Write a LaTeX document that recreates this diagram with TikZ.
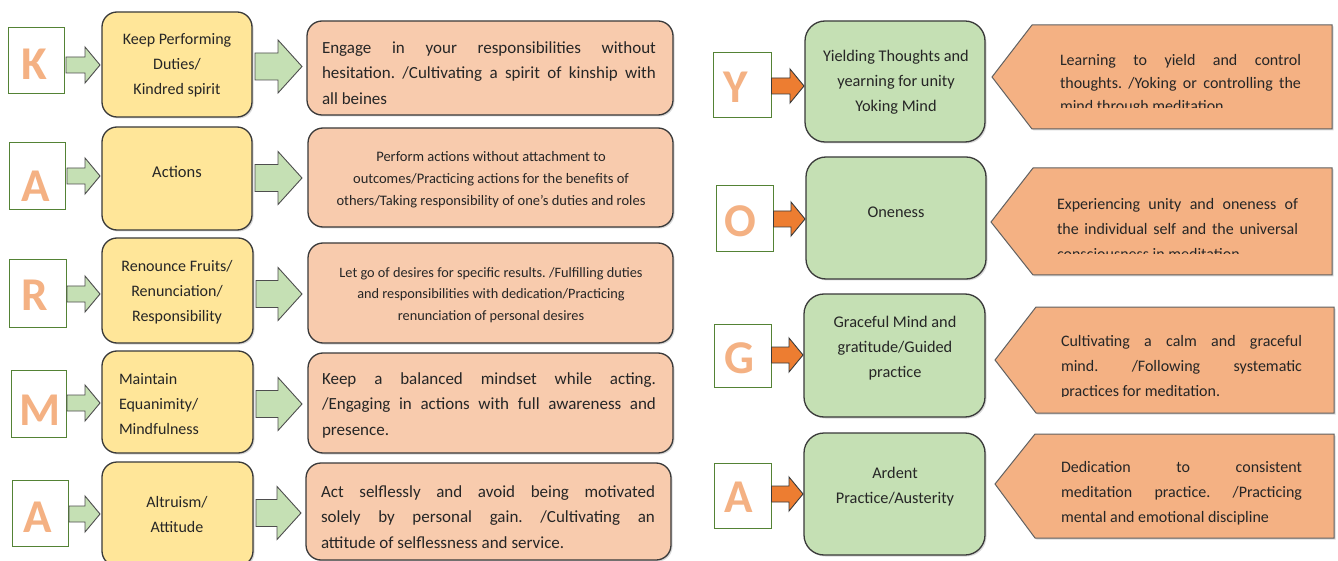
\documentclass[tikz,border=0pt]{standalone}
\usepackage{fontspec}
\setmainfont{Carlito}
\usetikzlibrary{calc,shadows}
\definecolor{yel}{HTML}{FFE699}
\definecolor{pch}{HTML}{F8CBAD}
\definecolor{lgr}{HTML}{C5E0B4}
\definecolor{org}{HTML}{F4B183}
\definecolor{dorg}{HTML}{ED7D31}
\definecolor{dgr}{HTML}{548235}
\definecolor{ltr}{HTML}{F4B183}
\definecolor{txt}{HTML}{262626}
\definecolor{edge}{HTML}{3A3A3A}
\newcommand\mkbox[6]{%
  \pgfmathsetmacro\bw{#5-#3}\pgfmathsetmacro\bh{#6-#4}%
  \node[#2, minimum width=\bw pt, minimum height=\bh pt] (#1) at ({(#3+#5)/2},{(#4+#6)/2}) {};}
% style, from node, to node, y, start gap, end gap, shaft half, head half, head length
\newcommand\barrow[9]{%
  \path[#1] let \p1=(#2.east), \p2=(#3.west), \p3=(0,#4) in
    (\x1+#5pt,\y3+#7pt) -- (\x2-#6pt-#9pt,\y3+#7pt) -- (\x2-#6pt-#9pt,\y3+#8pt) -- (\x2-#6pt,\y3)
    -- (\x2-#6pt-#9pt,\y3-#8pt) -- (\x2-#6pt-#9pt,\y3-#7pt) -- (\x1+#5pt,\y3-#7pt) -- cycle;}
\newcommand\jl[1]{\makebox[\hsize][s]{\spaceskip=0pt\xspaceskip=0pt\relax #1}}
\tikzset{
  every node/.style={inner sep=0pt, outer sep=0pt, text=txt},
  letterbox/.style={draw=dgr, line width=0.9pt, fill=white},
  letter/.style={font=\fontsize{47}{47}\selectfont\bfseries, text=ltr},
  shd/.style={drop shadow={opacity=0.3, shadow xshift=1.5pt, shadow yshift=-1.5pt}},
  ybox/.style={draw=edge, line width=1.3pt, fill=yel, rounded corners=15pt, shd},
  pbox/.style={draw=edge, line width=1.3pt, fill=pch, rounded corners=15pt, shd},
  gbox/.style={draw=edge, line width=1.3pt, fill=lgr, rounded corners=20pt, shd},
  pent/.style={draw=edge!80, line width=1pt, fill=org, shd},
  garrow/.style={draw=edge!90, line width=0.9pt, fill=lgr, line join=miter},
  oarrow/.style={draw=edge, line width=0.9pt, fill=dorg, line join=miter},
  ytext/.style={font=\fontsize{16}{25}\selectfont, align=center},
  ptext/.style={font=\fontsize{17}{25.5}\selectfont, text width=334pt, align=justify, anchor=west},
  stext/.style={font=\fontsize{14.5}{22}\selectfont, align=center},
  gtext/.style={font=\fontsize{16.3}{25}\selectfont, align=center},
  rtext/.style={font=\fontsize{16}{25}\selectfont, text width=241pt, align=justify, anchor=west},
}
\begin{document}
\frenchspacing
\begin{tikzpicture}[x=1pt,y=-1pt]
\useasboundingbox (0,0) rectangle (1338,561);
\fill[white] (0,0) rectangle (1338,561);

% ---------------- left column: KARMA ----------------
\mkbox{kb1}{letterbox}{8}{27}{64}{93}
\mkbox{kb2}{letterbox}{9}{142}{65}{209}
\mkbox{kb3}{letterbox}{9}{259}{66}{327}
\mkbox{kb4}{letterbox}{11}{370}{66}{437}
\mkbox{kb5}{letterbox}{12}{480}{68}{546}
\node[letter] (kl1) at (34,64) {K};
\node[letter] (kl2) at (36,186) {A};
\node[letter] (kl3) at (35,295) {R};
\node[letter] (kl4) at (40,410) {M};
\node[letter] (kl5) at (38,517) {A};

\mkbox{y1}{ybox}{102}{12}{252}{117}
\mkbox{y2}{ybox}{102}{127}{252}{230}
\mkbox{y3}{ybox}{102}{238}{253}{343}
\mkbox{y4}{ybox}{102}{351}{253}{453}
\mkbox{y5}{ybox}{102}{462}{253}{566}

\mkbox{p1}{pbox}{307}{21}{673}{115}
\mkbox{p2}{pbox}{308}{128}{673}{227}
\mkbox{p3}{pbox}{308}{243}{673}{343}
\mkbox{p4}{pbox}{308}{353}{673}{453}
\mkbox{p5}{pbox}{306}{463}{671}{560}

\barrow{garrow}{kb1}{y1}{65}{2}{2}{8}{18}{15}
\barrow{garrow}{kb2}{y2}{176}{2}{2}{8}{18}{15}
\barrow{garrow}{kb3}{y3}{294}{1}{2}{8}{18}{15}
\barrow{garrow}{kb4}{y4}{403}{1}{2}{8}{18}{15}
\barrow{garrow}{kb5}{y5}{514}{1}{2}{8}{18}{15}

\barrow{garrow}{y1}{p1}{66.5}{3}{5}{13.5}{26.5}{24}
\barrow{garrow}{y2}{p2}{178}{3}{6}{13.5}{26.5}{24}
\barrow{garrow}{y3}{p3}{294}{3}{6}{13.5}{26.5}{24}
\barrow{garrow}{y4}{p4}{404}{3}{6}{13.5}{26.5}{24}
\barrow{garrow}{y5}{p5}{513}{3}{5}{13.5}{26.5}{24}

\node[ytext] (yt1) at (177,65) {Keep Performing\\Duties/\\Kindred spirit};
\node[ytext, font=\fontsize{16.5}{25}\selectfont] (yt2) at (177,172) {Actions};
\node[ytext] (yt3) at (177,292) {Renounce Fruits/\\Renunciation/\\Responsibility};
\node[ytext, align=left, anchor=west] (yt4) at (119,404) {Maintain\\Equanimity/\\Mindfulness};
\node[ytext] (yt5) at (177,515) {Altruism/\\Attitude};

\node[ptext] (pt1) at (322,73) {\jl{Engage in your responsibilities without}\\\jl{hesitation. /Cultivating a spirit of kinship with}\\all beines};
\node[stext] (pt2) at (491,180) {Perform actions without attachment to\\outcomes/Practicing actions for the benefits of\\others/Taking responsibility of one’s duties and roles};
\node[stext, font=\fontsize{14.3}{21.5}\selectfont] (pt3) at (491,295) {Let go of desires for specific results. /Fulfilling duties\\and responsibilities with dedication/Practicing\\renunciation of personal desires};
\node[ptext] (pt4) at (322,405) {\jl{Keep a balanced mindset while acting.}\\\jl{/Engaging in actions with full awareness and}\\presence.};
\node[ptext] (pt5) at (321,517) {\jl{Act selflessly and avoid being motivated}\\\jl{solely by personal gain. /Cultivating an}\\attitude of selflessness and service.};

% ---------------- right column: YOGA ----------------
\mkbox{rb1}{letterbox}{713}{52}{771}{117}
\mkbox{rb2}{letterbox}{716}{185}{773}{251}
\mkbox{rb3}{letterbox}{714}{324}{771}{387}
\mkbox{rb4}{letterbox}{714}{463}{771}{528}
\node[letter] (rl1) at (736,87) {Y};
\node[letter] (rl2) at (740,221) {O};
\node[letter] (rl3) at (739,358) {G};
\node[letter] (rl4) at (739,497) {A};

\mkbox{g1}{gbox}{805}{21}{985}{142}
\mkbox{g2}{gbox}{806}{157}{986}{279}
\mkbox{g3}{gbox}{804}{294}{985}{417}
\mkbox{g4}{gbox}{804}{433}{985}{555}

\barrow{oarrow}{rb1}{g1}{86}{0.5}{1}{8}{17}{14}
\barrow{oarrow}{rb2}{g2}{219}{0.5}{1}{8}{17}{14}
\barrow{oarrow}{rb3}{g3}{355}{0.5}{1}{8}{17}{14}
\barrow{oarrow}{rb4}{g4}{494}{0.5}{1}{8}{17}{14}

\node[gtext] (gt1) at (896,82) {Yielding Thoughts and\\yearning for unity\\Yoking Mind};
\node[gtext] (gt2) at (896,212) {Oneness};
\node[gtext] (gt3) at (895,348) {Graceful Mind and\\gratitude/Guided\\practice};
\node[gtext] (gt4) at (895,487) {Ardent\\Practice/Austerity};

\path[pent] (1332,25) -- (1032,25) -- (992,77) -- (1032,129) -- (1332,129) -- cycle;
\path[pent] (1332,168) -- (1033,168) -- (991,222) -- (1033,275) -- (1332,275) -- cycle;
\path[pent] (1334,307) -- (1036,307) -- (995,360) -- (1036,413) -- (1334,413) -- cycle;
\path[pent] (1334,434) -- (1035,434) -- (995,484) -- (1035,538) -- (1334,538) -- cycle;

\begin{scope}
\clip (1040,30) rectangle (1320,107.5);
\node[rtext, font=\fontsize{16}{23}\selectfont] (rt1) at (1060,84) {\jl{Learning to yield and control}\\\jl{thoughts. /Yoking or controlling the}\\mind through meditation};
\end{scope}
\begin{scope}
\clip (1040,175) rectangle (1320,254);
\node[rtext] (rt2) at (1057,229) {\jl{Experiencing unity and oneness of}\\\jl{the individual self and the universal}\\consciousness in meditation};
\end{scope}
\begin{scope}
\clip (1040,315) rectangle (1320,396.5);
\node[rtext] (rt3) at (1061,367) {\jl{Cultivating a calm and graceful}\\\jl{mind. /Following systematic}\\practices for meditation.};
\end{scope}
\node[rtext] (rt4) at (1061,493) {\jl{Dedication to consistent}\\\jl{meditation practice. /Practicing}\\mental and emotional discipline};
\end{tikzpicture}
\end{document}
